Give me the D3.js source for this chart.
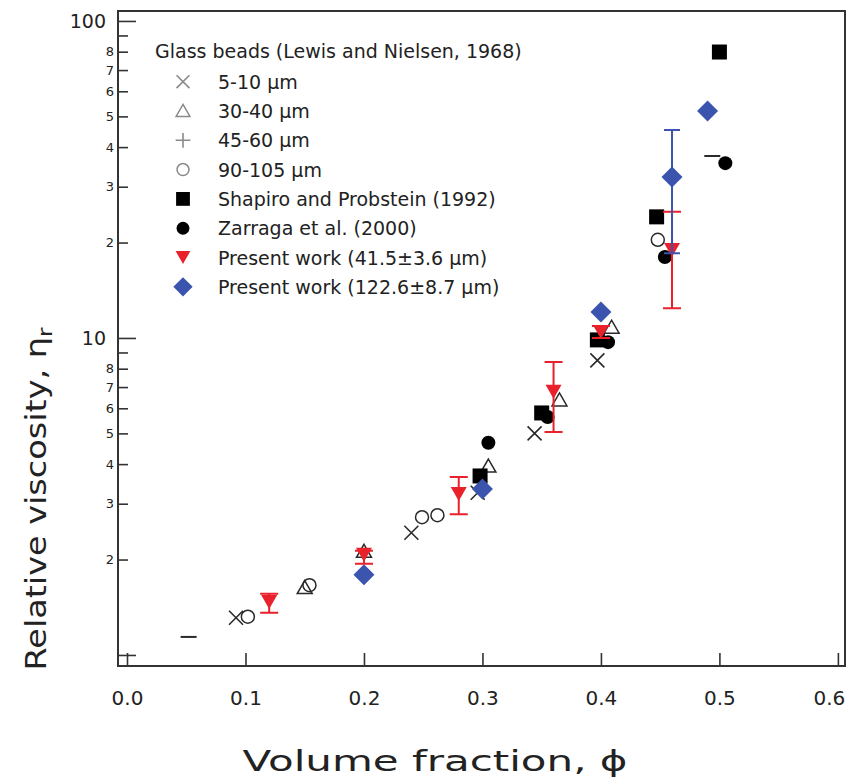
<!DOCTYPE html>
<html><head><meta charset="utf-8">
<script src="https://cdn.jsdelivr.net/npm/d3@7"></script>
<style>body{margin:0;background:#fff}svg{display:block}</style>
</head><body>
<svg id="c" width="852" height="781"></svg>
<script>
// ---------- data ----------
const xTicks = [0, 0.1, 0.2, 0.3, 0.4, 0.5, 0.6];
const yMajorTicks = [1, 10, 100];
const yMajorLabels = [10, 100];
const yMinorTicks = [2, 3, 4, 5, 6, 7, 8, 9, 20, 30, 40, 50, 60, 70, 80, 90];
const yMinorLabels = [2, 3, 4, 5, 6, 7, 8, 20, 30, 40, 50, 60, 70, 80];

const legendTitle = "Glass beads (Lewis and Nielsen, 1968)";
const legendNames = ["5-10 µm", "30-40 µm", "45-60 µm", "90-105 µm",
  "Shapiro and Probstein (1992)", "Zarraga et al. (2000)",
  "Present work (41.5±3.6 µm)", "Present work (122.6±8.7 µm)"];

const bead510Phi = [0.092, 0.24, 0.296, 0.344, 0.397];
const bead510Eta = [1.31, 2.43, 3.25, 5.0, 8.5];
const bead3040Phi = [0.15, 0.2, 0.305, 0.365, 0.409];
const bead3040Eta = [1.63, 2.12, 3.94, 6.37, 10.8];
const bead4560Phi = [0.052, 0.494];
const bead4560Eta = [1.14, 37.5];
const bead90105Phi = [0.102, 0.154, 0.249, 0.262, 0.448];
const bead90105Eta = [1.32, 1.66, 2.72, 2.76, 20.4];
const shapiroPhi = [0.298, 0.35, 0.397, 0.447, 0.5];
const shapiroEta = [3.67, 5.8, 9.86, 24.1, 79.8];
const zarragaPhi = [0.305, 0.355, 0.406, 0.454, 0.505];
const zarragaEta = [4.67, 5.63, 9.7, 18.0, 35.6];
const redPhi = [0.12, 0.2, 0.28, 0.36, 0.4, 0.46];
const redEta = [1.47, 2.07, 3.22, 6.76, 10.45, 18.95];
const redLow = [1.36, 1.94, 2.78, 5.05, 10.0, 12.4];
const redHigh = [1.56, 2.13, 3.64, 8.40, 10.9, 25.0];
const bluePhi = [0.2, 0.3, 0.4, 0.46, 0.49];
const blueEta = [1.79, 3.34, 12.08, 32.2, 52.0];
const blueLow = [1.79, 3.34, 12.08, 18.5, 52.0];
const blueHigh = [1.79, 3.34, 12.08, 45.3, 52.0];

// ---------- layout ----------
const svg = d3.select("#c");
const L = 118, R = 845, T = 11, B = 666;
const x = d3.scaleLinear().domain([-0.0076, 0.606]).range([L, R]);
const y = d3.scaleLog().domain([0.923, 107.5]).range([B, T]);
const FONT = "DejaVu Sans, Verdana, sans-serif";
const RED = "#e8212b", BLUE = "#3b55ae", BEAD = "#2a2a2a", BEADLEG = "#8a8a8a";

// frame
svg.append("rect").attr("x", L).attr("y", T).attr("width", R - L).attr("height", B - T)
  .attr("fill", "none").attr("stroke", "#333").attr("stroke-width", 2);

// x axis (inward ticks)
const xAxis = d3.axisBottom(x).tickValues(xTicks).tickSize(-13).tickPadding(25)
  .tickFormat(d3.format(".1f"));
const gx = svg.append("g").attr("transform", `translate(0,${B})`).call(xAxis);
gx.select(".domain").remove();
gx.selectAll(".tick line").attr("stroke", "#333").attr("stroke-width", 1.6);
gx.selectAll(".tick text").attr("font-family", FONT).attr("font-size", 20).attr("fill", "#222")
  .attr("dx", (d, i) => i === xTicks.length - 1 ? -9 : 0);

// y axis major
const yAxisMaj = d3.axisLeft(y).tickValues(yMajorTicks).tickSize(-18)
  .tickFormat(d => yMajorLabels.includes(d) ? String(d) : "").tickPadding(12);
const gy = svg.append("g").attr("transform", `translate(${L},0)`).call(yAxisMaj);
gy.select(".domain").remove();
gy.selectAll(".tick line").attr("stroke", "#333").attr("stroke-width", 1.6);
gy.selectAll(".tick text").attr("font-family", FONT).attr("font-size", 19).attr("fill", "#222");

// y axis minor
const yAxisMin = d3.axisLeft(y).tickValues(yMinorTicks).tickSize(-10)
  .tickFormat(d => yMinorLabels.includes(d) ? String(d)[0] : "").tickPadding(4);
const gym = svg.append("g").attr("transform", `translate(${L},0)`).call(yAxisMin);
gym.select(".domain").remove();
gym.selectAll(".tick line").attr("stroke", "#333").attr("stroke-width", 1.6);
gym.selectAll(".tick text").attr("font-family", FONT).attr("font-size", 13).attr("fill", "#222");

// axis titles
svg.append("text").attr("x", 435).attr("y", 771).attr("text-anchor", "middle")
  .attr("font-family", FONT).attr("font-size", 29).attr("fill", "#222")
  .attr("textLength", 385).attr("lengthAdjust", "spacingAndGlyphs")
  .text("Volume fraction, ϕ");
const yt = svg.append("text").attr("transform", "translate(46,499) rotate(-90)")
  .attr("text-anchor", "middle").attr("font-family", FONT).attr("font-size", 29).attr("fill", "#222")
  .attr("textLength", 343).attr("lengthAdjust", "spacingAndGlyphs");
yt.append("tspan").text("Relative viscosity, η");
yt.append("tspan").attr("font-size", 20).attr("dy", 6).text("r");

// ---------- marker helpers ----------
function drawMarker(g, type, cx, cy, legend) {
  const s = legend ? 0.92 : 1;
  if (type === "x") {
    const h = 7 * s;
    g.append("path").attr("d", `M${cx-h},${cy-h}L${cx+h},${cy+h}M${cx-h},${cy+h}L${cx+h},${cy-h}`)
      .attr("stroke", legend ? BEADLEG : BEAD).attr("stroke-width", 1.6).attr("fill", "none");
  } else if (type === "tri") {
    const w = 7.5 * s, h = 13 * s;
    g.append("path").attr("d", `M${cx},${cy-h*0.55}L${cx+w},${cy+h*0.45}L${cx-w},${cy+h*0.45}Z`)
      .attr("stroke", legend ? BEADLEG : BEAD).attr("stroke-width", 1.5).attr("fill", "none");
  } else if (type === "plus") {
    const h = 8 * s;
    if (legend) {
      g.append("path").attr("d", `M${cx-h},${cy}L${cx+h},${cy}M${cx},${cy-h}L${cx},${cy+h}`)
        .attr("stroke", BEADLEG).attr("stroke-width", 1.6);
    } else {
      g.append("path").attr("d", `M${cx-h},${cy}L${cx+h},${cy}`)
        .attr("stroke", BEAD).attr("stroke-width", 2);
    }
  } else if (type === "ocircle") {
    g.append("circle").attr("cx", cx).attr("cy", cy).attr("r", 6.5 * s)
      .attr("stroke", legend ? BEADLEG : BEAD).attr("stroke-width", 1.5).attr("fill", "none");
  } else if (type === "square") {
    const h = 7.5 * s;
    g.append("rect").attr("x", cx - h).attr("y", cy - h).attr("width", 2 * h).attr("height", 2 * h)
      .attr("fill", "#000");
  } else if (type === "dot") {
    g.append("circle").attr("cx", cx).attr("cy", cy).attr("r", 7 * s).attr("fill", "#000");
  } else if (type === "tridown") {
    const w = 8 * s, h = 14 * s;
    g.append("path").attr("d", `M${cx-w},${cy-h/2}L${cx+w},${cy-h/2}L${cx},${cy+h/2}Z`).attr("fill", RED);
  } else if (type === "diamond") {
    const h = 10.5 * s;
    g.append("path").attr("d", `M${cx},${cy-h}L${cx+h},${cy}L${cx},${cy+h}L${cx-h},${cy}Z`).attr("fill", BLUE);
  }
}

const plot = svg.append("g");
function scatter(phis, etas, type) {
  phis.forEach((p, i) => drawMarker(plot, type, x(p), y(etas[i]), false));
}
function errorBars(phis, lows, highs, color, capW) {
  phis.forEach((p, i) => {
    if (highs[i] <= lows[i]) return;
    const cx = x(p), y1 = y(lows[i]), y2 = y(highs[i]);
    plot.append("path")
      .attr("d", `M${cx},${y1}L${cx},${y2}M${cx-capW},${y1}L${cx+capW},${y1}M${cx-capW},${y2}L${cx+capW},${y2}`)
      .attr("stroke", color).attr("stroke-width", 2).attr("fill", "none");
  });
}

scatter(bead510Phi, bead510Eta, "x");
scatter(bead3040Phi, bead3040Eta, "tri");
scatter(bead4560Phi, bead4560Eta, "plus");
scatter(bead90105Phi, bead90105Eta, "ocircle");
scatter(shapiroPhi, shapiroEta, "square");
scatter(zarragaPhi, zarragaEta, "dot");
errorBars(redPhi, redLow, redHigh, RED, 9);
scatter(redPhi, redEta, "tridown");
errorBars(bluePhi, blueLow, blueHigh, BLUE, 8);
scatter(bluePhi, blueEta, "diamond");

// ---------- legend ----------
const leg = svg.append("g");
leg.append("text").attr("x", 155).attr("y", 57.5).attr("font-family", FONT).attr("font-size", 19)
  .attr("fill", "#222").text(legendTitle);
const legTypes = ["x", "tri", "plus", "ocircle", "square", "dot", "tridown", "diamond"];
legendNames.forEach((name, i) => {
  const cy = 81.7 + 29.3 * i;
  drawMarker(leg, legTypes[i], 183, cy, true);
  leg.append("text").attr("x", 218).attr("y", cy + 7).attr("font-family", FONT).attr("font-size", 19)
    .attr("fill", "#222").text(name);
});
</script>
</body></html>
